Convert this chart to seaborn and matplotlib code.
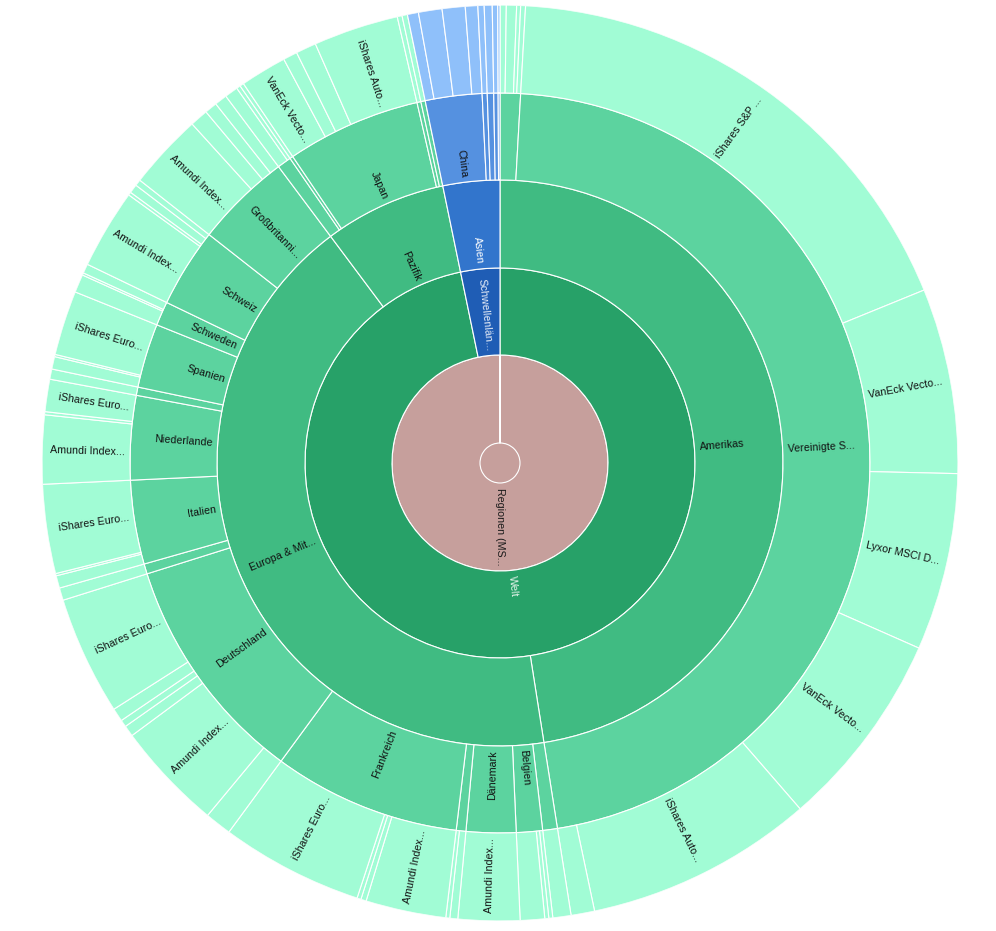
import numpy as np
import matplotlib
matplotlib.use("Agg")
import matplotlib.pyplot as plt
import seaborn as sns

# ---------------- data (shares in % of the whole portfolio) ----------------
root_name = "Regionen (MSCI)"
block_names = ["Welt", "Schwellenländer"]
region_names = ["Amerikas", "Europa & Mittlerer Osten", "Pazifik", "Asien"]
region_block = ["Welt", "Welt", "Welt", "Schwellenländer"]

countries = ["Kanada", "Vereinigte Staaten",
             "Österreich", "Belgien", "Dänemark", "Finnland", "Frankreich",
             "Deutschland", "Irland", "Italien", "Niederlande", "Norwegen",
             "Spanien", "Schweden", "Schweiz", "Großbritannien",
             "Australien", "Hongkong", "Japan", "Neuseeland", "Singapur",
             "China", "Indien", "Südkorea", "Taiwan", "Thailand"]
country_region = ["Amerikas"] * 2 + ["Europa & Mittlerer Osten"] * 14 + \
                 ["Pazifik"] * 5 + ["Asien"] * 5

etf_values = [
    [0.22, 0.36, 0.14, 0.17],                 # Kanada
    [17.94, 6.53, 6.25, 7.00, 8.06, 0.83],    # Vereinigte Staaten
    [0.64],                                   # Österreich
    [0.14, 0.14, 0.86],                       # Belgien
    [2.17],                                   # Dänemark
    [0.28, 0.14],                             # Finnland
    [2.83, 0.19, 0.14, 5.03],                 # Frankreich
    [0.94, 3.83, 0.39, 0.25, 0.47, 4.19],     # Deutschland
    [0.44],                                   # Irland
    [0.44, 0.08, 3.14],                       # Italien
    [2.42, 0.11, 1.14],                       # Niederlande
    [0.36],                                   # Norwegen
    [0.44, 0.08, 2.28],                       # Spanien
    [0.64, 0.08, 0.33],                       # Schweden
    [2.81, 0.11, 0.31, 0.22],                 # Schweiz
    [2.67, 0.64, 0.44, 0.44],                 # Großbritannien
    [0.47, 0.14],                             # Australien
    [0.14],                                   # Hongkong
    [1.64, 0.50, 0.72, 3.00],                 # Japan
    [0.17],                                   # Neuseeland
    [0.19],                                   # Singapur
    [0.39, 0.83, 0.81, 0.44],                 # China
    [0.22],                                   # Indien
    [0.28],                                   # Südkorea
    [0.19],                                   # Taiwan
    [0.08],                                   # Thailand
]
etf_names = [
    ["", "", "", ""],
    ["iShares S&P ...", "VanEck Vecto...", "Lyxor MSCI D...", "VanEck Vecto...", "iShares Auto...", ""],
    [""],
    ["", "", ""],
    ["Amundi Index..."],
    ["", ""],
    ["Amundi Index...", "", "", "iShares Euro..."],
    ["", "Amundi Index...", "", "", "", "iShares Euro..."],
    [""],
    ["", "", "iShares Euro..."],
    ["Amundi Index...", "", "iShares Euro..."],
    [""],
    ["", "", "iShares Euro..."],
    ["", "", ""],
    ["Amundi Index...", "", "", ""],
    ["Amundi Index...", "", "", ""],
    ["", ""],
    [""],
    ["VanEck Vecto...", "", "", "iShares Auto..."],
    [""],
    [""],
    ["", "", "", ""],
    [""], [""], [""], [""],
]

# ---------------- style ----------------
sns.set_theme(style="white")
plt.rcParams["font.family"] = ["Liberation Sans", "DejaVu Sans"]

radii = [20, 108, 195, 283, 370, 458]
pal_green = ["#c69f9c", "#27a168", "#40bb82", "#5cd39f", "#a1fcd5"]
pal_blue = ["#c69f9c", "#1f5db5", "#3275cc", "#5591e0", "#8fc0fa"]
FS = 7.7
MIN_SHARE = 1.0


def short(s):
    return s if len(s) <= 12 else s[:12] + "..."


fig = plt.figure(figsize=(9.96, 9.31), dpi=100)
cx, cy, R = 500 / 996, 1 - 463 / 931, 458
w, h = 2 * R / 996, 2 * R / 931
ax = fig.add_axes([cx - w / 2, cy - h / 2, w, h], projection="polar")
ax.set_theta_zero_location("N")
ax.set_theta_direction(-1)
ax.set_ylim(0, R)
ax.set_axis_off()

total = sum(sum(v) for v in etf_values)
scale = 360.0 / total


def draw_ring(level, names, values, colors, tcolors):
    values = np.asarray(values, float)
    spans = values * scale
    starts = np.concatenate([[0], np.cumsum(spans)[:-1]])
    r0, r1 = radii[level - 1], radii[level]
    ax.bar(np.deg2rad(starts), r1 - r0, width=np.deg2rad(spans), bottom=r0,
           align="edge", color=colors, edgecolor="white", linewidth=0.8)
    for name, st, sp, v, tc in zip(names, starts, spans, values, tcolors):
        if not name or v < MIN_SHARE:
            continue
        mid = st + sp / 2
        if mid <= 180.001:
            rot, ha = 90 - mid, "left"
        else:
            rot, ha = 270 - mid, "right"
        ax.text(np.deg2rad(mid), r0 + 5, short(name), rotation=rot,
                rotation_mode="anchor", ha=ha, va="center", fontsize=FS,
                color=tc)


# centre disc + root ring
ax.bar(0, radii[0], width=2 * np.pi, bottom=0, align="edge",
       color=pal_green[0], linewidth=0)
draw_ring(1, [root_name], [total], [pal_green[0]], ["#1a1a1a"])

# block ring
country_tot = [sum(v) for v in etf_values]
region_tot = [sum(t for t, r in zip(country_tot, country_region) if r == rn)
              for rn in region_names]
block_tot = [sum(t for t, b in zip(region_tot, region_block) if b == bn)
             for bn in block_names]


def is_blue_region(rn):
    return region_block[region_names.index(rn)] == "Schwellenländer"


draw_ring(2, block_names, block_tot,
          [pal_blue[1] if b == "Schwellenländer" else pal_green[1] for b in block_names],
          ["#e4f3ea" if b == "Welt" else "#e8eef8" for b in block_names])

draw_ring(3, region_names, region_tot,
          [pal_blue[2] if is_blue_region(r) else pal_green[2] for r in region_names],
          ["#ffffff" if is_blue_region(r) else "#111111" for r in region_names])

draw_ring(4, countries, country_tot,
          [pal_blue[3] if is_blue_region(r) else pal_green[3] for r in country_region],
          ["#111111"] * len(countries))

leaf_vals, leaf_names, leaf_cols = [], [], []
for vals, nms, reg in zip(etf_values, etf_names, country_region):
    for v, n in zip(vals, nms):
        leaf_vals.append(v)
        leaf_names.append(n)
        leaf_cols.append(pal_blue[4] if is_blue_region(reg) else pal_green[4])
draw_ring(5, leaf_names, leaf_vals, leaf_cols, ["#111111"] * len(leaf_vals))

fig.savefig("out.png", dpi=100, facecolor="white")
